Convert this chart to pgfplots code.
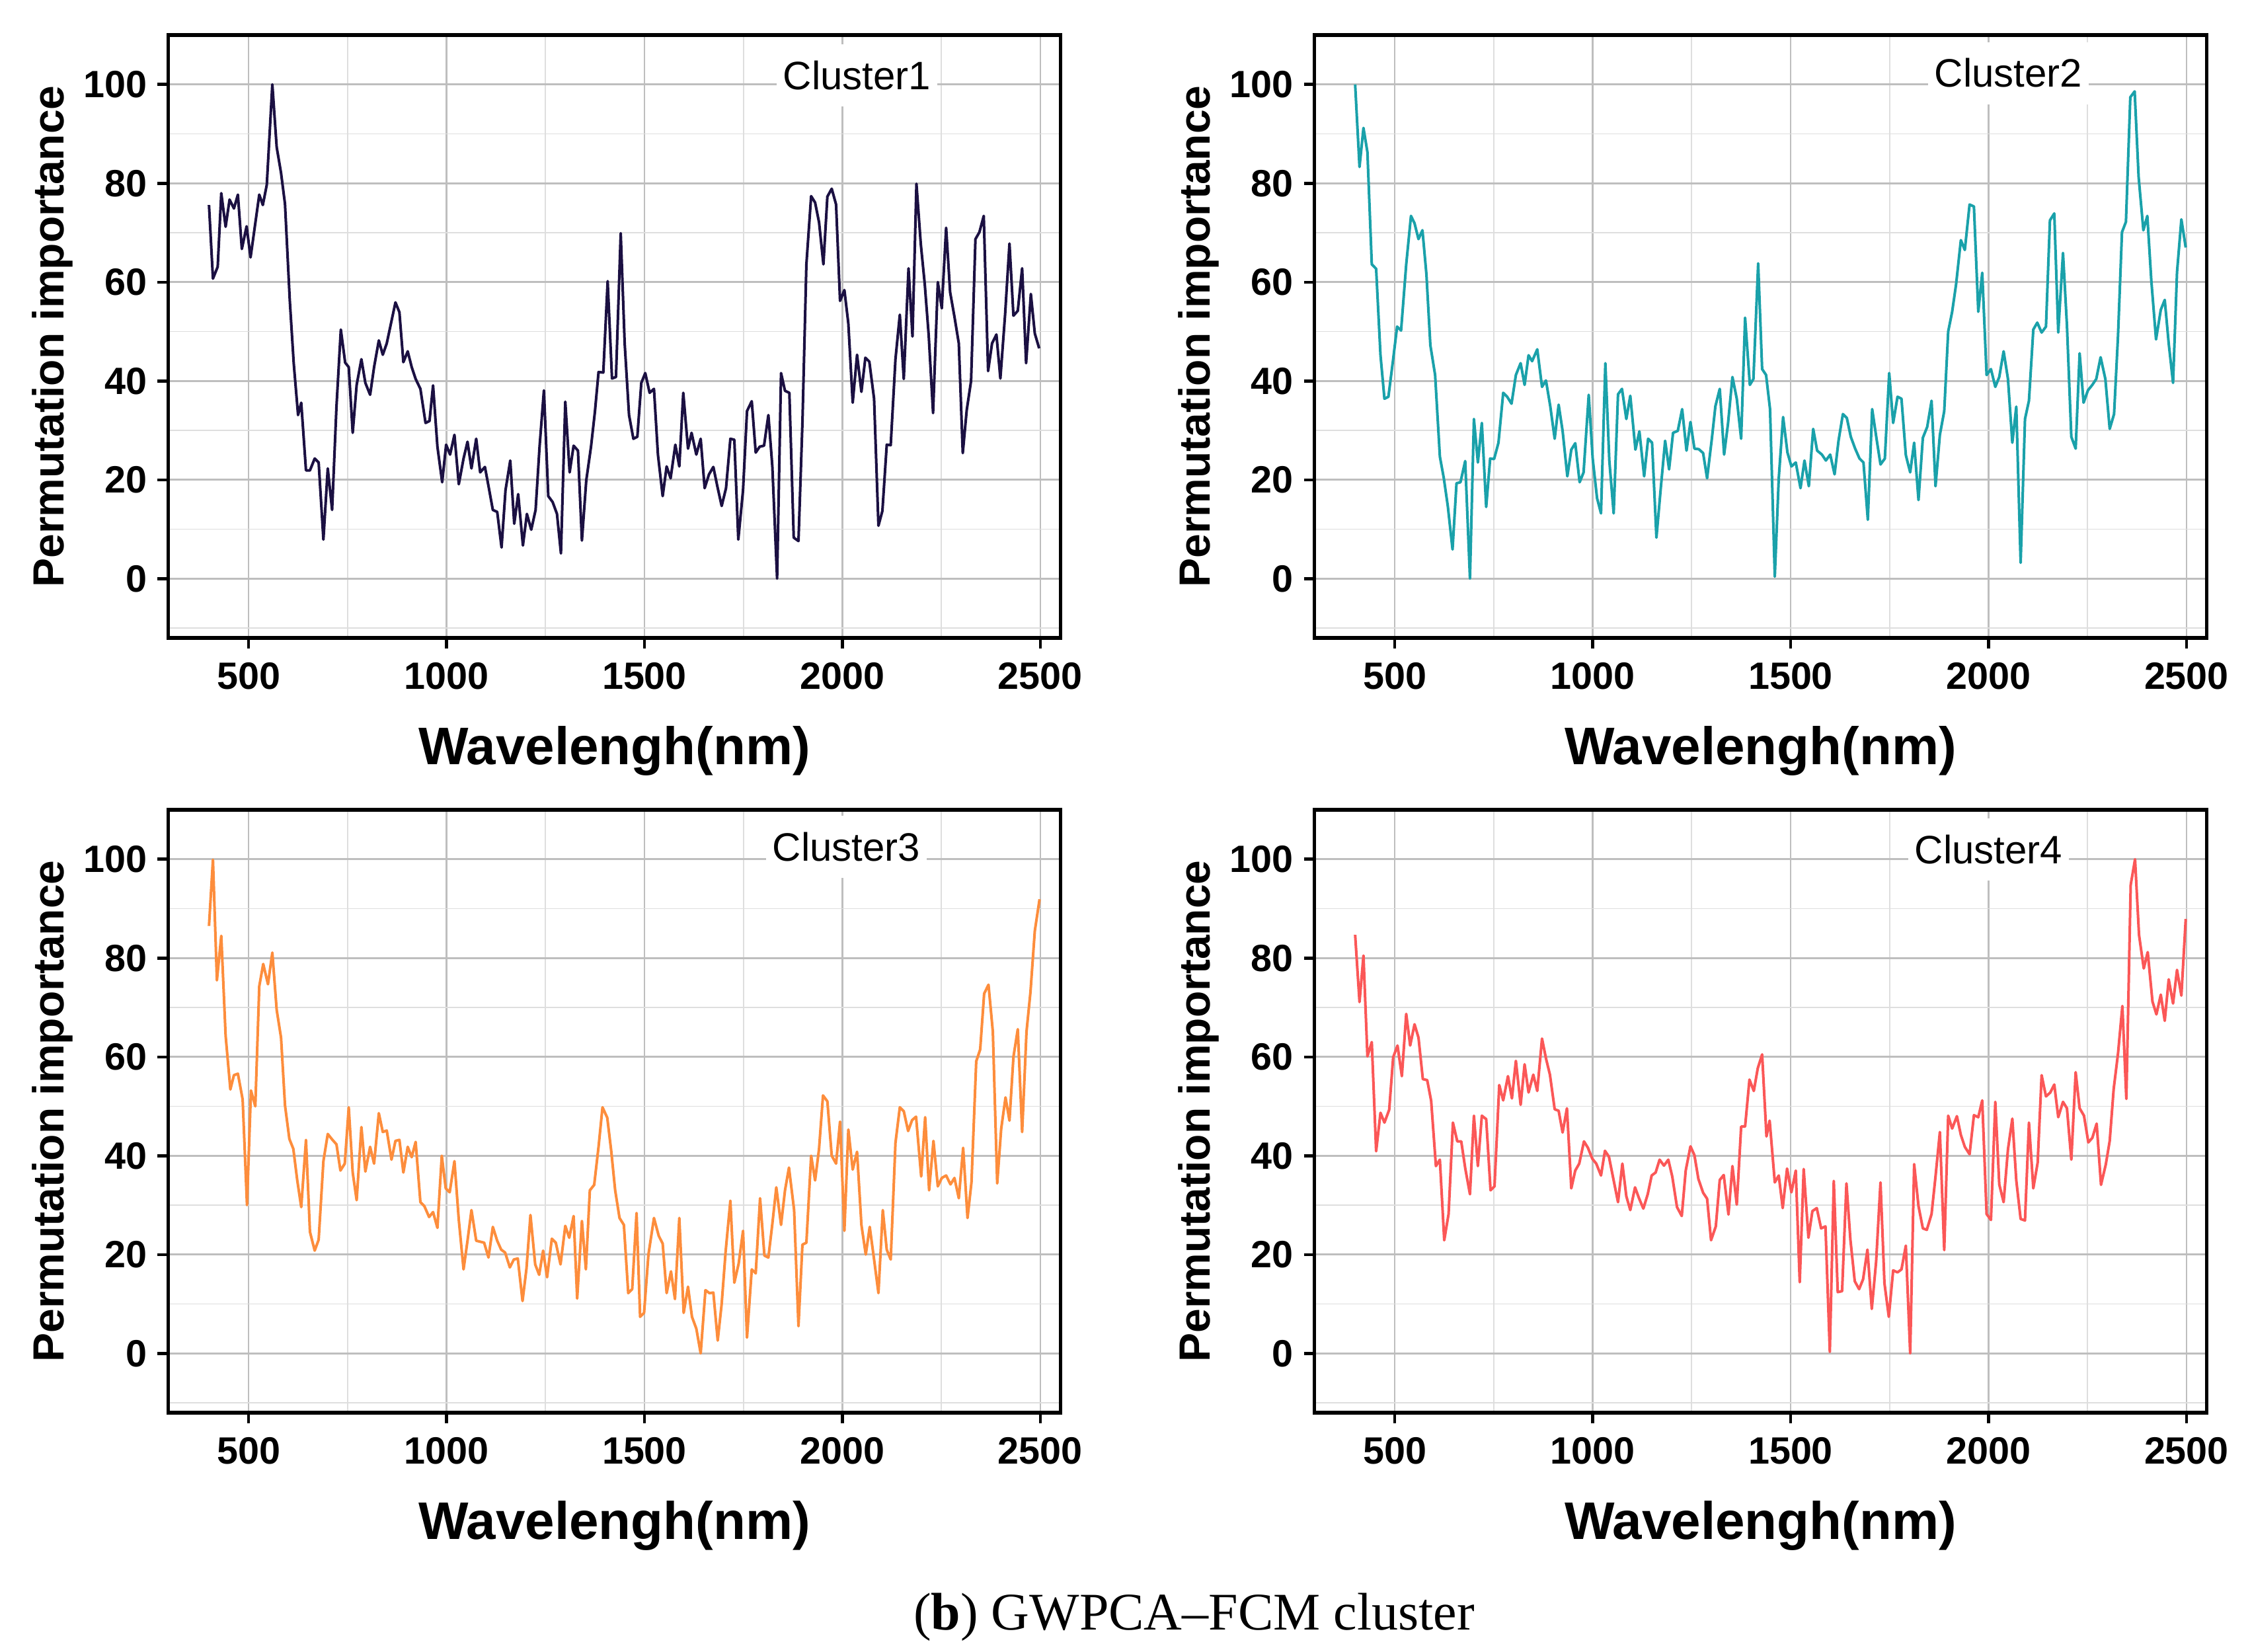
\documentclass[border=0pt]{standalone}
\usepackage{pgfplots}
\pgfplotsset{compat=1.18}
\usepackage{fontspec}
\setmainfont{Liberation Sans}
\newfontfamily\capfont{Liberation Serif}
\definecolor{cone}{HTML}{1B1042}
\definecolor{ctwo}{HTML}{1AA1AA}
\definecolor{cthree}{HTML}{FD8D3C}
\definecolor{cfour}{HTML}{FB5757}
\definecolor{gmaj}{HTML}{BEBEBE}
\definecolor{gmin}{HTML}{DEDEDE}
\tikzset{
  dline/.style={line width=0.8pt, line join=round, mark=none},
  clab/.style={fill=white, inner xsep=2pt, inner ysep=5pt, font=\fontsize{12}{14}\selectfont},
}
\pgfplotsset{
  panel/.style={
    scale only axis, width=270pt, height=182.4pt, anchor=north west,
    xmin=297, xmax=2551, ymin=-12, ymax=110,
    xtick={500,1000,1500,2000,2500}, minor xtick={750,1250,1750,2250},
    ytick={0,20,40,60,80,100}, minor ytick={-10,10,30,50,70,90},
    grid=both,
    major grid style={color=gmaj, line width=0.55pt},
    minor grid style={color=gmin, line width=0.35pt},
    tick pos=left, tick align=outside,
    major tick length=3.2pt, minor tick length=0pt,
    tick style={black, line width=0.9pt},
    axis line style={black, line width=1.1pt},
    /pgf/number format/assume math mode=true,
    /pgf/number format/1000 sep={},
    ticklabel style={font=\bfseries\fontsize{11.5}{13}\selectfont},
    yticklabel style={inner sep=0pt, xshift=-3pt},
    xticklabel style={inner sep=0pt, yshift=-4pt},
    xlabel={Wavelengh(nm)}, ylabel={Permutation importance},
    xlabel style={font=\bfseries\fontsize{16}{18}\selectfont, at={(axis description cs:0.5,-0.188)}, anchor=center},
    ylabel style={font=\bfseries\fontsize{13.2}{15}\selectfont, at={(axis description cs:-0.130,0.5)}, anchor=center},
  },
}
\begin{document}
\begin{tikzpicture}
\useasboundingbox (0,0) rectangle (680.8pt,-499.8pt);
% ---------------- Cluster 1
\begin{axis}[panel, at={(50.9pt,-10.6pt)}]
\addplot[dline, cone] table {
400 75.6
410 60.7
422 63.1
431 78.0
442 71.2
452 76.7
463 74.9
473 77.7
483 66.7
495 71.3
505 65.0
527 77.7
536 75.6
546 79.7
560 100
571 87.3
582 82.1
592 75.8
604 56.4
614 43.6
625 33.1
633 35.6
645 21.9
655 21.9
667 24.3
677 23.5
689 7.9
700 22.3
711 13.9
722 34.8
733 50.4
744 43.7
753 42.8
763 29.5
773 39.2
785 44.4
795 39.6
807 37.2
817 42.8
829 48.2
839 45.3
849 47.6
871 55.9
881 53.9
891 43.8
902 46.0
912 42.8
922 40.4
934 38.4
947 31.5
957 31.9
966 39.1
977 26.7
989 19.5
999 27.1
1009 25.1
1020 29.1
1031 19.1
1043 24.3
1053 27.7
1063 22.3
1075 28.3
1085 21.5
1097 22.6
1107 18.3
1117 13.9
1128 13.5
1139 6.3
1149 17.9
1161 23.9
1171 11.1
1181 17.1
1193 6.7
1203 13.1
1214 9.9
1225 13.9
1235 26.7
1246 38.1
1257 16.7
1268 15.5
1279 13.1
1289 5.1
1300 35.8
1311 21.5
1321 26.9
1332 25.9
1342 7.7
1353 19.9
1365 26.7
1375 33.9
1384 41.8
1396 41.7
1407 60.2
1418 40.5
1428 40.8
1440 69.9
1450 47.6
1461 33.1
1472 28.3
1482 28.7
1492 39.6
1502 41.6
1513 37.6
1524 38.4
1534 25.1
1546 16.7
1556 22.7
1566 20.3
1578 27.1
1588 22.7
1598 37.6
1610 26.3
1619 29.5
1631 25.1
1642 28.3
1652 18.3
1663 21.1
1674 22.6
1684 18.7
1695 14.7
1706 18.3
1717 28.3
1727 28.1
1737 7.9
1749 17.9
1759 33.9
1771 35.9
1781 25.5
1791 26.7
1802 26.9
1813 33.1
1823 22.7
1835 0
1845 41.6
1855 38.0
1866 37.6
1877 8.3
1889 7.6
1899 31.5
1909 63.6
1921 77.4
1931 76.1
1941 72.1
1952 63.6
1962 77.3
1973 78.9
1984 75.7
1994 56.2
2005 58.4
2015 51.6
2026 35.6
2037 45.3
2048 37.8
2058 44.7
2068 43.9
2080 36.4
2091 10.7
2101 13.7
2112 27.1
2122 27.0
2134 44.4
2145 53.4
2155 40.4
2167 62.8
2177 49.0
2187 79.9
2198 67.7
2208 59.6
2218 49.2
2229 33.5
2241 60.0
2251 54.7
2262 71.0
2272 58.0
2283 53.0
2294 47.6
2304 25.4
2314 34.1
2325 40.0
2336 68.7
2346 70.1
2357 73.4
2368 42.0
2378 47.6
2389 49.4
2399 40.5
2411 53.5
2422 67.8
2432 53.2
2443 54.2
2454 62.8
2464 43.6
2476 57.6
2486 49.6
2497 46.6
};
\node[clab] at (axis cs:2037,101.8) {Cluster1};
\end{axis}
% ---------------- Cluster 2
\begin{axis}[panel, at={(397.7pt,-10.6pt)}]
\addplot[dline, ctwo] table {
400 100
411 83.3
421 91.2
431 86.3
442 63.6
453 62.7
464 45.2
474 36.4
484 36.8
496 44.4
506 51.0
516 50.2
529 63.6
541 73.4
550 71.9
560 68.7
570 70.5
580 61.6
590 47.2
602 41.2
614 24.7
624 20.3
634 14.7
646 5.9
656 19.3
666 19.5
678 23.8
690 0
700 32.3
710 23.5
720 31.5
731 14.5
741 24.3
751 24.2
762 27.5
774 37.6
784 36.8
795 35.4
806 41.2
818 43.6
828 39.2
838 45.2
847 44.0
860 46.4
872 38.8
882 40.1
893 34.8
904 28.3
914 35.2
924 29.9
936 20.7
946 26.1
956 27.4
967 19.5
977 21.5
990 37.2
1000 24.3
1011 16.3
1021 13.2
1032 43.6
1042 23.9
1053 13.2
1064 37.3
1074 38.4
1085 32.3
1095 37.0
1108 26.1
1118 29.8
1130 20.7
1140 28.3
1150 27.5
1161 8.3
1172 18.3
1183 27.9
1193 22.1
1203 29.5
1215 29.9
1226 34.3
1237 25.9
1247 31.7
1257 26.3
1268 26.2
1279 25.4
1289 20.3
1301 28.3
1310 34.9
1321 38.4
1332 25.1
1342 31.5
1353 40.8
1364 36.4
1375 28.3
1385 52.8
1397 39.2
1406 40.4
1418 63.8
1428 42.4
1438 41.2
1448 34.3
1460 0.4
1470 20.3
1481 32.7
1492 25.5
1502 22.7
1513 23.5
1525 18.3
1535 23.9
1546 18.7
1557 30.3
1567 25.9
1579 25.1
1589 23.9
1600 25.1
1611 21.1
1621 27.9
1632 33.3
1642 32.5
1652 28.7
1663 26.3
1674 24.3
1684 23.5
1695 11.9
1706 34.3
1717 28.3
1727 23.1
1738 24.3
1749 41.6
1759 31.5
1770 36.8
1780 36.4
1791 25.0
1802 21.5
1812 27.5
1823 15.9
1834 28.5
1845 30.7
1856 36.0
1866 18.7
1877 29.1
1888 33.9
1898 50.0
1908 54.0
1918 59.6
1930 68.5
1940 66.5
1952 75.7
1963 75.3
1974 54.0
1984 61.9
1995 41.2
2006 42.4
2017 38.8
2027 40.8
2038 46.0
2049 40.4
2060 27.5
2070 34.8
2081 3.2
2092 32.3
2102 36.0
2113 50.4
2123 51.8
2134 49.8
2145 51.0
2155 72.5
2166 73.9
2176 49.8
2188 65.9
2198 51.2
2209 28.7
2220 26.3
2230 45.6
2240 35.6
2251 38.1
2262 39.2
2272 40.4
2283 44.8
2295 40.4
2306 30.3
2317 33.3
2327 49.2
2337 70.1
2347 72.2
2358 97.4
2369 98.6
2379 81.3
2391 70.5
2401 73.4
2411 60.4
2423 48.4
2435 54.4
2445 56.4
2455 47.6
2466 39.6
2476 62.0
2487 72.7
2498 67.0
};
\node[clab] at (axis cs:2050,102.3) {Cluster2};
\end{axis}
% ---------------- Cluster 3
\begin{axis}[panel, at={(50.9pt,-245.0pt)}]
\addplot[dline, cthree] table {
400 86.5
410 99.9
420 75.5
431 84.5
442 64.3
454 53.4
463 56.3
473 56.6
485 51.4
496 30.0
506 53.2
517 50.0
527 74.3
537 78.8
549 74.7
560 81.1
571 69.5
582 63.9
592 50.2
603 43.4
613 41.4
623 35.0
633 29.6
645 43.2
655 24.6
667 20.8
677 23.0
689 38.9
700 44.4
711 43.3
722 42.3
732 37.0
743 38.4
753 49.8
763 36.6
773 31.0
785 45.8
795 36.8
807 41.8
817 38.4
829 48.6
839 44.8
849 45.1
861 39.2
871 43.0
881 43.2
891 36.6
902 41.8
912 39.7
922 42.8
934 30.6
944 29.8
956 27.6
966 28.6
977 25.4
988 40.0
998 33.4
1008 32.6
1020 38.9
1031 27.0
1043 17.0
1053 22.8
1063 29.0
1075 22.8
1085 22.6
1095 22.4
1106 19.4
1117 25.6
1128 22.8
1138 21.0
1148 20.4
1160 17.4
1170 19.0
1180 19.2
1192 10.6
1202 17.2
1212 28.0
1224 18.0
1234 15.9
1244 20.8
1254 15.4
1266 23.2
1276 22.4
1288 18.0
1300 25.8
1310 23.4
1321 27.8
1330 11.1
1342 26.8
1352 17.0
1362 33.0
1373 34.1
1384 41.8
1394 49.8
1406 47.7
1416 41.0
1426 33.0
1437 27.4
1448 26.0
1459 12.2
1469 13.0
1480 28.4
1489 7.4
1499 8.2
1510 20.0
1524 27.4
1536 23.8
1546 22.2
1556 12.2
1567 16.6
1577 11.0
1588 27.4
1599 8.2
1610 13.5
1620 7.4
1631 5.0
1642 0
1654 12.8
1664 12.2
1674 12.3
1685 2.6
1695 10.0
1705 20.6
1717 30.9
1727 14.3
1738 18.2
1749 24.8
1759 3.2
1771 17.0
1781 16.2
1792 31.4
1803 19.8
1813 19.4
1823 26.2
1833 33.6
1845 26.0
1855 33.0
1865 37.6
1878 29.0
1889 5.5
1899 22.0
1909 22.4
1921 40.0
1931 35.0
1941 41.4
1951 52.2
1962 51.0
1973 40.0
1984 38.4
1994 46.9
2005 24.8
2015 45.3
2026 37.2
2037 40.8
2048 26.0
2059 20.0
2069 25.6
2080 19.0
2091 12.2
2102 29.0
2112 21.0
2122 19.0
2134 42.6
2145 49.8
2155 49.0
2166 45.0
2176 47.2
2186 47.9
2199 35.8
2209 47.8
2219 33.0
2230 43.0
2241 33.8
2251 35.5
2262 36.0
2273 34.2
2283 35.5
2294 31.4
2305 41.6
2316 27.4
2326 34.6
2338 59.1
2348 61.5
2358 72.8
2369 74.6
2380 65.1
2391 34.4
2401 45.4
2412 51.8
2422 47.1
2432 60.0
2443 65.6
2454 44.8
2465 65.1
2475 73.1
2486 85.5
2498 91.9
};
\node[clab] at (axis cs:2010,102.5) {Cluster3};
\end{axis}
% ---------------- Cluster 4
\begin{axis}[panel, at={(397.7pt,-245.0pt)}]
\addplot[dline, cfour] table {
400 84.7
411 71.1
421 80.5
431 60.1
442 63.0
453 40.9
464 48.7
474 46.7
486 49.3
496 59.9
507 62.3
518 56.1
529 68.7
539 62.3
550 66.6
560 63.9
571 55.5
582 55.3
592 51.1
604 37.9
614 39.2
625 22.9
636 28.2
647 46.7
658 42.9
668 42.9
678 37.5
690 32.2
700 48.1
710 37.9
720 48.1
731 47.4
742 33.0
752 33.8
764 54.3
774 51.2
786 56.1
796 51.6
806 59.2
818 50.3
828 58.5
838 52.8
850 56.4
860 53.1
872 63.7
882 59.7
892 56.4
904 49.4
914 49.1
924 44.7
935 49.6
946 33.4
956 37.0
966 38.4
978 42.9
988 41.6
999 39.4
1009 38.4
1021 36.0
1031 41.0
1041 39.8
1053 35.0
1064 30.6
1075 38.4
1085 31.8
1095 29.0
1107 33.6
1117 31.4
1128 29.3
1139 32.2
1149 36.0
1159 36.6
1169 39.2
1180 38.0
1191 39.2
1201 35.8
1213 29.6
1225 27.8
1235 37.0
1247 41.9
1257 40.1
1267 35.3
1279 32.5
1289 31.3
1299 22.9
1311 25.7
1321 35.1
1331 36.1
1343 28.1
1353 37.9
1364 30.1
1375 45.9
1385 45.9
1396 55.4
1407 53.1
1417 57.7
1428 60.5
1439 43.9
1447 47.1
1460 34.6
1470 36.0
1480 29.4
1491 37.4
1502 32.6
1513 37.0
1523 14.4
1533 37.3
1545 23.4
1555 28.8
1566 29.4
1577 25.3
1588 25.7
1599 0.3
1609 34.9
1619 12.4
1630 12.6
1641 34.4
1651 23.0
1662 14.6
1673 13.0
1683 15.0
1694 21.0
1705 9.0
1716 18.6
1727 34.6
1737 14.2
1748 7.4
1759 16.8
1770 16.4
1780 17.0
1791 21.8
1802 0
1812 38.3
1823 29.8
1834 25.3
1844 25.0
1856 28.2
1866 35.8
1877 44.8
1888 20.9
1898 48.1
1908 45.5
1920 48.0
1930 44.2
1940 41.8
1952 40.3
1963 48.2
1974 47.8
1984 51.2
1995 28.2
2006 27.0
2017 50.9
2027 34.2
2038 30.6
2049 41.3
2060 47.5
2070 35.0
2081 27.2
2092 26.9
2102 46.7
2113 33.4
2124 38.6
2134 56.3
2145 52.0
2156 52.8
2166 54.4
2176 47.8
2188 50.9
2198 49.6
2209 39.2
2220 56.9
2230 49.6
2241 48.1
2252 42.7
2262 43.6
2273 46.5
2284 34.1
2296 38.2
2306 43.0
2316 53.5
2327 60.7
2338 70.3
2348 51.5
2359 94.8
2370 100
2380 84.7
2392 77.9
2402 81.2
2414 71.2
2424 68.6
2435 72.6
2445 67.3
2455 75.7
2466 70.8
2476 77.6
2487 72.4
2498 87.9
};
\node[clab] at (axis cs:2000,102.0) {Cluster4};
\end{axis}
\node[font=\capfont\fontsize{16}{18}\selectfont, anchor=center] at (361.3pt,-489.3pt) {(\textbf{b}) GWPCA–FCM cluster};
\end{tikzpicture}
\end{document}
